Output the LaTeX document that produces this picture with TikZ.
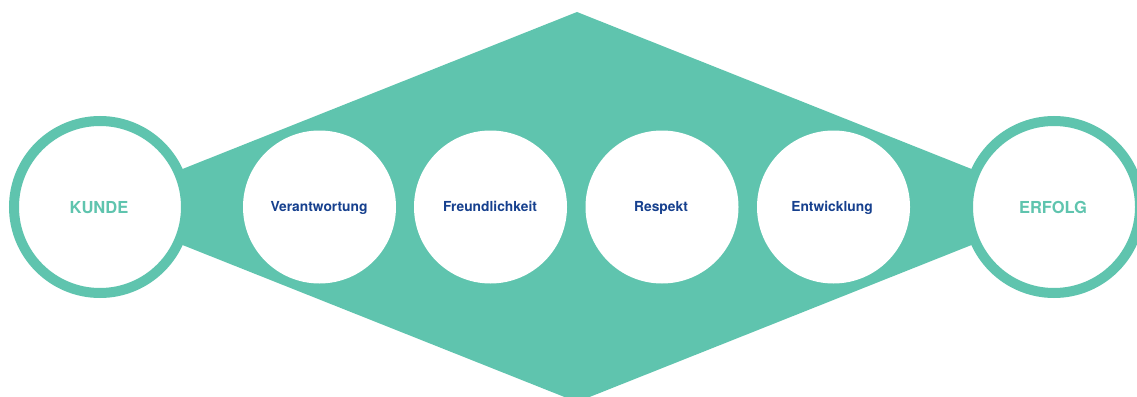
\documentclass[tikz,border=0pt]{standalone}
\usepackage{fontspec}
\setmainfont{TeX Gyre Heros}
\definecolor{teal1}{RGB}{95,196,174}
\definecolor{navy1}{RGB}{22,64,142}
\begin{document}
\begin{tikzpicture}[x=1pt,y=-1pt,
  ring/.style={circle,draw=teal1,line width=10pt,fill=white,minimum size=172pt,inner sep=0pt},
  value/.style={circle,fill=white,minimum size=153pt,inner sep=0pt},
  endtext/.style={anchor=base,inner sep=0pt,text=teal1,font=\fontsize{16.5}{20}\selectfont\bfseries},
  valtext/.style={anchor=base,inner sep=0pt,text=navy1,font=\fontsize{13.8}{16}\selectfont\bfseries}]
\useasboundingbox (0,0) rectangle (1137,396);
\clip (0,0) rectangle (1137,396);
\coordinate (dt) at (577,12);
\coordinate (dr) at (1067,207);
\coordinate (db) at (577,402);
\coordinate (dl) at (87,207);
\fill[teal1] (dt) -- (dr) -- (db) -- (dl) -- cycle;
\node[ring] (kunde) at (100,207) {};
\node[ring] (erfolg) at (1054,207) {};
\node[endtext] (tk) at (99,213) {KUNDE};
\node[endtext] (te) at (1053,213) {ERFOLG};
\node[value] (v1) at (319.5,207) {};
\node[value] (v2) at (490.5,207) {};
\node[value] (v3) at (662,207) {};
\node[value] (v4) at (833.5,207) {};
\node[valtext] (t1) at (319,211) {Verantwortung};
\node[valtext] (t2) at (490,211) {Freundlichkeit};
\node[valtext] (t3) at (661,211.5) {Respekt};
\node[valtext] (t4) at (832,211) {Entwicklung};
\end{tikzpicture}
\end{document}
